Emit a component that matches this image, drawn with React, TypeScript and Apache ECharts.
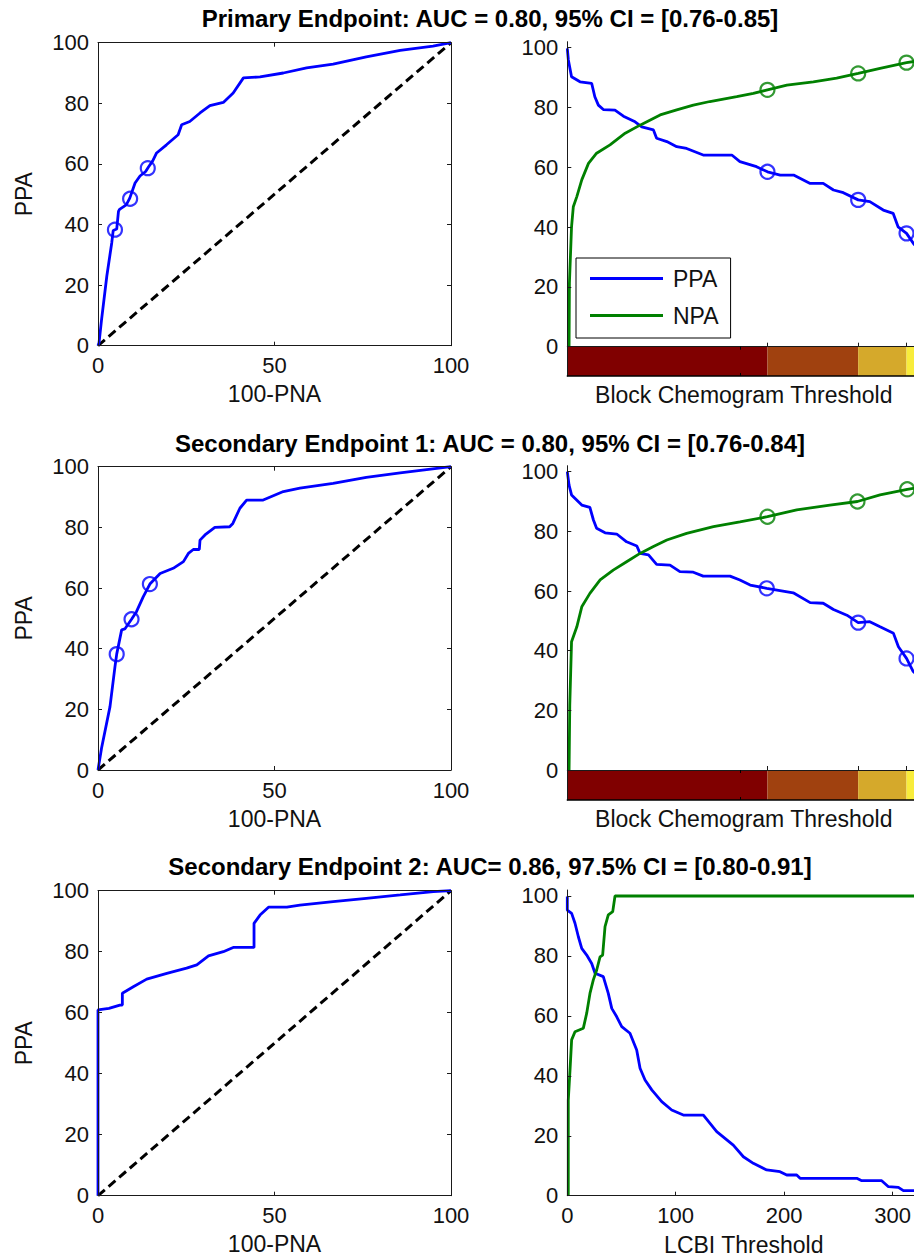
import React, { useEffect, useRef } from 'react';
import * as echarts from 'echarts';

const FONT = '"Liberation Sans", Arial, Helvetica, sans-serif';
const BLUE = '#0000ff';
const GREEN = '#008000';
const AX = '#1a1a1a';
const LW = 2.8;

// ---------- titles ----------
const titles = [
  'Primary Endpoint: AUC = 0.80, 95% CI = [0.76-0.85]',
  'Secondary Endpoint 1: AUC = 0.80, 95% CI = [0.76-0.84]',
  'Secondary Endpoint 2: AUC= 0.86, 97.5% CI = [0.80-0.91]',
];

// ---------- ROC curves: [100-PNA, PPA] ----------
const roc1 = [[0,0],[0.3,1],[1,8.5],[2.5,23],[3.9,34],[4.3,38],[5.3,38.5],[5.8,44.3],[6.1,45],[8,46.5],[9,48.7],[10.5,53.7],[11.9,56],[13.5,57.5],[14.3,59],[15.5,61],[16.6,63.6],[19.4,66.3],[22.7,69.6],[23.7,72.9],[26,74],[28.9,76.8],[31.7,79.2],[35.5,80.3],[38.3,83.4],[41.2,88.4],[45.9,88.7],[52.5,90],[59.1,91.7],[66.6,92.9],[76,95.3],[85.6,97.5],[94.9,98.9],[100,100]];
const roc1Marks = [[4.8,38.3],[9.1,48.5],[14.1,58.6]];

const roc2 = [[0,0],[1,7.2],[3.4,20.9],[4.8,34],[5.3,38.2],[6.7,46.2],[7.6,46.5],[9.5,49.7],[10.9,52.2],[12.8,57.1],[14.7,61.3],[17.6,64.8],[21.3,66.5],[24.2,68.7],[25.6,71.4],[27,72.7],[28.7,72.7],[28.9,75.8],[30.3,77.5],[33.1,80],[37.3,80.2],[38.2,81.3],[40.2,86.3],[42.1,89],[46.8,89],[52.5,91.8],[57.2,92.9],[66.6,94.5],[76,96.5],[85.6,98],[100,100]];
const roc2Marks = [[5.3,38.2],[9.5,49.7],[14.7,61.3]];

const roc3 = [[0,0],[0,60.9],[3.1,61.4],[6.2,62.5],[6.9,62.5],[6.9,66.4],[10,68.5],[13.8,71],[19.5,72.9],[25.1,74.6],[28,75.7],[31.3,78.6],[35.5,80],[38.3,81.4],[44.2,81.4],[44.2,89.3],[45.9,92],[48.3,94.6],[53.5,94.6],[57.2,95.3],[66.6,96.4],[76,97.5],[85.6,98.6],[95,99.7],[100,100]];

const diagonal = [[0,0],[100,100]];

// ---------- threshold curves (block chemogram threshold, % of range) ----------
const ppa1 = [[0,99.8],[0.3,95.9],[1.2,90.3],[3.6,88.6],[6.9,88.1],[7.8,83.6],[8.8,80.8],[10.2,79.3],[13.5,79.1],[15.9,77.1],[19.2,75.2],[21.1,73.5],[24.4,72.5],[25.3,69.7],[28.2,68.6],[31,66.9],[33.8,66.3],[38.5,64.1],[46.6,64.1],[48.9,61.9],[53.6,60.2],[56.7,58.5],[60.3,57.4],[64.1,57.4],[68.8,54.6],[72.5,54.6],[75.4,52.4],[78.2,51.5],[82.4,49.1],[85.7,48.5],[89.5,45.7],[92.3,44.6],[93.7,40.1],[96.1,37.9],[98,34.6],[100,32]];
const npa1 = [[0.5,0],[0.6,21.2],[1.2,40.1],[1.7,46.8],[2.7,50.2],[4.1,55.8],[6,61.3],[8.3,64.7],[12.1,67.5],[16.4,71.4],[20.6,74.1],[26.3,77.5],[31,79.2],[35.7,80.8],[40.4,82],[48,83.6],[52.7,84.7],[56.7,85.9],[62.2,87.5],[69.7,88.6],[76.3,89.8],[82.4,91.4],[88.6,93.1],[96.1,95],[100,95.7]];
const ppa1Marks = [[56.7,58.5],[82.4,49.1],[96.1,37.9]];
const npa1Marks = [[56.7,85.9],[82.4,91.4],[96.1,95]];

const ppa2 = [[0,100],[0.5,95.5],[1.2,92.2],[4.1,88.8],[6.4,88],[7.4,83.8],[8.3,81],[10.7,79.5],[14,79.1],[16.8,76.5],[19.7,75.1],[20.6,72.6],[23,72.1],[25.3,68.9],[29.1,68.7],[31.9,66.5],[35.7,66.3],[38.5,65],[46.1,65],[48.9,63.7],[51.8,62],[56.5,60.9],[64,59.4],[68.8,56.1],[72.5,55.9],[75.4,53.8],[79.2,51.9],[82.4,49.4],[85.7,49.7],[88.6,48],[92.4,45.8],[93.8,41.3],[96.1,37.4],[98,33],[100,31]];
const npa2 = [[0.5,0],[0.7,21.8],[1.2,43],[2.7,48],[4.1,54.7],[6.4,59.2],[9.3,63.7],[13,67],[16.8,69.8],[20.6,72.6],[24.4,74.9],[28.2,77.1],[33.8,79.3],[41.4,81.6],[48.9,83.2],[56.7,84.9],[65,87.2],[74.4,88.8],[82.2,90],[88.6,92.2],[96.3,94.1],[98,94.4],[100,94.7]];
const ppa2Marks = [[56.5,60.9],[82.4,49.4],[96.1,37.4]];
const npa2Marks = [[56.7,84.9],[82.2,90],[96.3,94.1]];

// ---------- LCBI threshold curves ----------
const ppa3 = [[0,99.8],[0,95.3],[4,94.2],[7.1,90.9],[10.2,86.4],[13.3,82.5],[17.9,80.3],[22.5,77.5],[25.6,74.2],[33.2,73.1],[37.8,67.5],[41,62.5],[45.6,59.7],[50.2,56.4],[57.8,54.2],[64,48.6],[67.1,42.5],[71.7,38.6],[77.9,35.3],[87.1,31.4],[96.3,28.6],[107,26.9],[125.5,26.9],[137.8,21.4],[153.1,16.9],[162.4,13],[171.6,10.8],[183.9,8.6],[196.2,8],[202.4,6.9],[211.6,6.9],[214.7,5.8],[267,5.8],[271.6,5],[290,5],[296.2,3],[305.4,2.8],[310,1.7],[319.2,1.7],[326,1.5]];
const npa3 = [[0.9,0],[0.9,31.9],[2.5,41.9],[4,52],[7.1,54.7],[14.8,55.9],[17.9,60.9],[20.9,67.5],[24,72],[27.1,75.3],[30.2,79.7],[32.6,80.3],[34.8,89.8],[37.8,93.7],[41.9,94.8],[44,100],[326,100]];

// ---------- colour bar (block chemogram classes) ----------
const cbEdges = [0, 56.7, 82.4, 96.1, 100];
const cbColors = ['#800000', '#a0410f', '#d5a92b', '#f8ec3b'];
const cbMajorTicks = [56.7, 82.4, 96.1];
const cbMinorTicks = [48.9];

const rocXTicksInterval = 50;
const pctYTicks = [0, 20, 40, 60, 80, 100];
const lcbiTicks = [0, 100, 200, 300];

const labelStyle = { fontFamily: FONT, fontSize: 22, color: '#111' };
const nameStyle = { fontFamily: FONT, fontSize: 23, color: '#111' };

function baseAxis(gridIndex: number, min: number, max: number, extra: any = {}) {
  return {
    type: 'value',
    gridIndex,
    min,
    max,
    splitLine: { show: false },
    axisLine: { show: true, onZero: false, lineStyle: { color: AX, width: 1 } },
    axisTick: { show: true, inside: true, length: 4, lineStyle: { color: AX, width: 1 } },
    axisLabel: { show: false },
    z: 10,
    ...extra,
  };
}

function buildOption() {
  const grids: any[] = [];
  const xAxes: any[] = [];
  const yAxes: any[] = [];
  const series: any[] = [];

  const PW = 353;
  const LX = 98;
  const RX = 567.3;

  const leftPanels = [
    { top: 42.7, h: 303, roc: roc1, marks: roc1Marks },
    { top: 466.7, h: 303.3, roc: roc2, marks: roc2Marks },
    { top: 890.7, h: 305, roc: roc3, marks: null as any },
  ];

  leftPanels.forEach((p, i) => {
    const g = grids.length;
    grids.push({ left: LX, top: p.top, width: PW, height: p.h });
    const xb = xAxes.length;
    xAxes.push(baseAxis(g, 0, 100, {
      position: 'bottom', interval: rocXTicksInterval,
      axisLabel: { show: true, margin: 9, ...labelStyle },
      name: '100-PNA', nameLocation: 'middle', nameGap: 37, nameTextStyle: nameStyle,
    }));
    xAxes.push(baseAxis(g, 0, 100, { position: 'top', interval: rocXTicksInterval }));
    const yl = yAxes.length;
    yAxes.push(baseAxis(g, 0, 100, {
      position: 'left', interval: 20,
      axisLabel: { show: true, margin: 9, ...labelStyle },
      name: 'PPA', nameLocation: 'middle', nameGap: 63, nameRotate: 90, nameTextStyle: nameStyle,
    }));
    yAxes.push(baseAxis(g, 0, 100, { position: 'right', interval: 20 }));

    series.push({
      type: 'line', name: 'diag' + i, xAxisIndex: xb, yAxisIndex: yl, data: diagonal,
      symbol: 'none', clip: false, lineStyle: { color: '#000', width: 3, type: [9, 5] },
    });
    series.push({
      type: 'line', name: 'roc' + i, xAxisIndex: xb, yAxisIndex: yl, data: p.roc,
      symbol: 'none', clip: false, lineStyle: { color: BLUE, width: LW },
    });
    if (p.marks) {
      series.push({
        type: 'scatter', name: 'rocm' + i, xAxisIndex: xb, yAxisIndex: yl, data: p.marks,
        symbol: 'circle', symbolSize: 14, clip: false,
        itemStyle: { color: 'rgba(0,0,0,0)', borderColor: BLUE, borderWidth: 2.2 },
      });
    }
  });

  const rightCb = [
    { top: 41.7, h: 305, cbH: 29.3, ppa: ppa1, npa: npa1, pm: ppa1Marks, nm: npa1Marks, names: ['PPA', 'NPA'] },
    { top: 465.7, h: 304.3, cbH: 30, ppa: ppa2, npa: npa2, pm: ppa2Marks, nm: npa2Marks, names: ['PPA_2', 'NPA_2'] },
  ];

  rightCb.forEach((p) => {
    const g = grids.length;
    grids.push({ left: RX, top: p.top, width: PW, height: p.h });
    const xm = xAxes.length;
    xAxes.push(baseAxis(g, 0, 100, {
      position: 'bottom',
      axisTick: { show: true, inside: true, length: 4, customValues: cbMajorTicks, lineStyle: { color: AX } },
    }));
    const ym = yAxes.length;
    yAxes.push(baseAxis(g, 0, 102, {
      position: 'left',
      axisTick: { show: true, inside: true, length: 4, customValues: pctYTicks, lineStyle: { color: AX } },
      axisLabel: { show: true, margin: 9, customValues: pctYTicks, ...labelStyle },
    }));

    const gc = grids.length;
    grids.push({ left: RX, top: p.top + p.h, width: PW, height: p.cbH });
    const xc = xAxes.length;
    xAxes.push(baseAxis(gc, 0, 100, {
      position: 'bottom',
      axisLine: { show: true, onZero: false, lineStyle: { color: '#000', width: 1.5 } },
      axisTick: { show: true, inside: true, length: 3, customValues: cbMinorTicks, lineStyle: { color: '#000' } },
      name: 'Block Chemogram Threshold', nameLocation: 'middle', nameGap: 7, nameTextStyle: nameStyle,
    }));
    xAxes.push(baseAxis(gc, 0, 100, {
      position: 'top',
      axisLine: { show: false },
      axisTick: { show: true, inside: true, length: 3, customValues: cbMinorTicks, lineStyle: { color: '#000' } },
    }));
    const yc = yAxes.length;
    yAxes.push(baseAxis(gc, -10, 0, { position: 'left', axisTick: { show: false } }));

    const cbData = cbColors.map((c, k) => [cbEdges[k], cbEdges[k + 1], -10, k]);
    series.push({
      type: 'custom', name: 'cb' + g, xAxisIndex: xc, yAxisIndex: yc, data: cbData,
      encode: { x: [0, 1], y: 2 },
      renderItem: (params: any, api: any) => {
        const a = api.coord([api.value(0), 0]);
        const b = api.coord([api.value(1), -10]);
        return {
          type: 'rect',
          shape: { x: a[0], y: a[1], width: b[0] - a[0], height: b[1] - a[1] },
          style: { fill: cbColors[api.value(3)] },
        };
      },
    });

    series.push({
      type: 'line', name: p.names[0], xAxisIndex: xm, yAxisIndex: ym, data: p.ppa,
      symbol: 'none', clip: false, color: BLUE, lineStyle: { color: BLUE, width: LW },
    });
    series.push({
      type: 'line', name: p.names[1], xAxisIndex: xm, yAxisIndex: ym, data: p.npa,
      symbol: 'none', clip: false, color: GREEN, lineStyle: { color: GREEN, width: LW },
    });
    series.push({
      type: 'scatter', name: p.names[0] + 'm', xAxisIndex: xm, yAxisIndex: ym, data: p.pm,
      symbol: 'circle', symbolSize: 14, clip: false,
      itemStyle: { color: 'rgba(0,0,0,0)', borderColor: BLUE, borderWidth: 2.2 },
    });
    series.push({
      type: 'scatter', name: p.names[1] + 'm', xAxisIndex: xm, yAxisIndex: ym, data: p.nm,
      symbol: 'circle', symbolSize: 14, clip: false,
      itemStyle: { color: 'rgba(0,0,0,0)', borderColor: GREEN, borderWidth: 2.2 },
    });
  });

  // third right panel (LCBI)
  {
    const g = grids.length;
    grids.push({ left: RX, top: 890, width: PW, height: 305.7 });
    const xb = xAxes.length;
    xAxes.push(baseAxis(g, 0, 325.6, {
      position: 'bottom',
      axisTick: { show: true, inside: true, length: 4, customValues: lcbiTicks, lineStyle: { color: AX } },
      axisLabel: { show: true, margin: 9, customValues: lcbiTicks, ...labelStyle },
      name: 'LCBI Threshold', nameLocation: 'middle', nameGap: 38, nameTextStyle: nameStyle,
    }));
    const yl = yAxes.length;
    yAxes.push(baseAxis(g, 0, 102, {
      position: 'left',
      axisTick: { show: true, inside: true, length: 4, customValues: pctYTicks, lineStyle: { color: AX } },
      axisLabel: { show: true, margin: 9, customValues: pctYTicks, ...labelStyle },
    }));
    series.push({
      type: 'line', name: 'PPA_3', xAxisIndex: xb, yAxisIndex: yl, data: ppa3,
      symbol: 'none', clip: false, lineStyle: { color: BLUE, width: LW },
    });
    series.push({
      type: 'line', name: 'NPA_3', xAxisIndex: xb, yAxisIndex: yl, data: npa3,
      symbol: 'none', clip: false, lineStyle: { color: GREEN, width: LW },
    });
  }

  const titleY = [18, 443, 866.5];
  const graphic = titles.map((t, i) => ({
    type: 'text',
    x: 490,
    y: titleY[i],
    style: {
      text: t,
      fill: '#000',
      fontFamily: FONT,
      fontSize: 24,
      fontWeight: 'bold',
      align: 'center',
      verticalAlign: 'middle',
    },
  }));

  return {
    animation: false,
    backgroundColor: '#fff',
    grid: grids,
    xAxis: xAxes,
    yAxis: yAxes,
    series,
    graphic,
    legend: {
      show: true,
      left: 576,
      top: 258,
      orient: 'vertical',
      itemWidth: 73,
      itemHeight: 20,
      itemGap: 14,
      padding: [9, 12, 11, 14],
      borderColor: '#000',
      borderWidth: 1,
      borderRadius: 0,
      backgroundColor: '#fff',
      textStyle: { fontFamily: FONT, fontSize: 23, color: '#111', padding: [0, 0, 0, 5] },
      selectedMode: false,
      data: [
        { name: 'PPA', icon: 'path://M0,0 L100,0 L100,4 L0,4 Z', itemStyle: { color: BLUE } },
        { name: 'NPA', icon: 'path://M0,0 L100,0 L100,4 L0,4 Z', itemStyle: { color: GREEN } },
      ],
    },
  };
}

export default function App() {
  const ref = useRef<HTMLDivElement>(null);
  useEffect(() => {
    if (!ref.current) return;
    const chart = echarts.init(ref.current, null, { renderer: 'svg', width: 940, height: 1259 });
    chart.setOption(buildOption() as any);
    return () => chart.dispose();
  }, []);
  return (
    <div style={{ position: 'absolute', left: 0, top: 0, width: 914, height: 1259, overflow: 'hidden', background: '#fff' }}>
      <div ref={ref} style={{ width: 940, height: 1259 }} />
    </div>
  );
}
